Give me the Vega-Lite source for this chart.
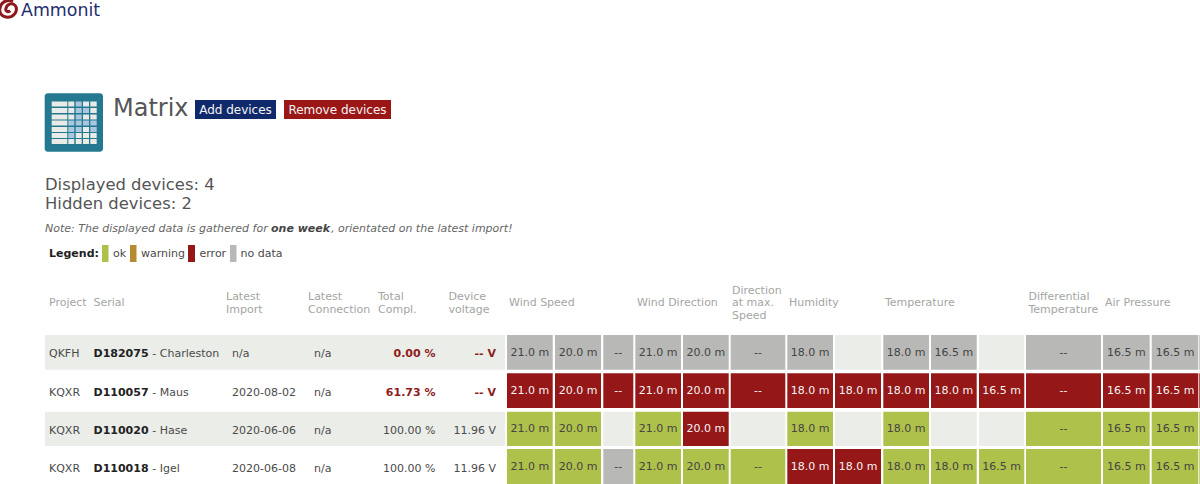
{"$schema":"https://vega.github.io/schema/vega-lite/v6.json","width":1200,"height":484,"padding":0,"autosize":"none","background":"white","view":{"stroke":null},
"config":{"text":{"font":"DejaVu Sans"}},
"datasets":{
"blocks":[
{"col":70,"colEnd":70.9,"row":30,"rowEnd":30.9,"kind":"frame"},
{"col":0,"colEnd":0.9,"row":1,"rowEnd":1.9,"kind":"empty"},
{"col":0,"colEnd":0.9,"row":3,"rowEnd":3.9,"kind":"empty"},
{"col":53,"colEnd":53.9,"row":23,"rowEnd":23.9,"kind":"add"},
{"col":54,"colEnd":54.9,"row":23,"rowEnd":23.9,"kind":"remove"},
{"col":59,"colEnd":59.9,"row":28,"rowEnd":28.9,"kind":"ok"},
{"col":60,"colEnd":60.9,"row":28,"rowEnd":28.9,"kind":"warning"},
{"col":61,"colEnd":61.9,"row":28,"rowEnd":28.9,"kind":"error"},
{"col":62,"colEnd":62.9,"row":28,"rowEnd":28.9,"kind":"nodata"},
{"col":71,"colEnd":71.9,"row":31,"rowEnd":31.9,"kind":"iconLight"},{"col":72,"colEnd":72.9,"row":31,"rowEnd":31.9,"kind":"iconLight"},{"col":73,"colEnd":73.9,"row":31,"rowEnd":31.9,"kind":"iconBlue"},{"col":74,"colEnd":74.9,"row":31,"rowEnd":31.9,"kind":"iconLight"},{"col":75,"colEnd":75.9,"row":31,"rowEnd":31.9,"kind":"iconLight"},
{"col":71,"colEnd":71.9,"row":32,"rowEnd":32.9,"kind":"iconLight"},{"col":72,"colEnd":72.9,"row":32,"rowEnd":32.9,"kind":"iconLight"},{"col":73,"colEnd":73.9,"row":32,"rowEnd":32.9,"kind":"iconBlue"},{"col":74,"colEnd":74.9,"row":32,"rowEnd":32.9,"kind":"iconBlue"},{"col":75,"colEnd":75.9,"row":32,"rowEnd":32.9,"kind":"iconLight"},
{"col":71,"colEnd":71.9,"row":33,"rowEnd":33.9,"kind":"iconLight"},{"col":72,"colEnd":72.9,"row":33,"rowEnd":33.9,"kind":"iconLight"},{"col":73,"colEnd":73.9,"row":33,"rowEnd":33.9,"kind":"iconBlue"},{"col":74,"colEnd":74.9,"row":33,"rowEnd":33.9,"kind":"iconLight"},{"col":75,"colEnd":75.9,"row":33,"rowEnd":33.9,"kind":"iconLight"},
{"col":71,"colEnd":71.9,"row":34,"rowEnd":34.9,"kind":"iconLight"},{"col":72,"colEnd":72.9,"row":34,"rowEnd":34.9,"kind":"iconBlue"},{"col":73,"colEnd":73.9,"row":34,"rowEnd":34.9,"kind":"iconBlue"},{"col":74,"colEnd":74.9,"row":34,"rowEnd":34.9,"kind":"iconBlue"},{"col":75,"colEnd":75.9,"row":34,"rowEnd":34.9,"kind":"iconBlue"},
{"col":71,"colEnd":71.9,"row":35,"rowEnd":35.9,"kind":"iconLight"},{"col":72,"colEnd":72.9,"row":35,"rowEnd":35.9,"kind":"iconBlue"},{"col":73,"colEnd":73.9,"row":35,"rowEnd":35.9,"kind":"iconBlue"},{"col":74,"colEnd":74.9,"row":35,"rowEnd":35.9,"kind":"iconLight"},{"col":75,"colEnd":75.9,"row":35,"rowEnd":35.9,"kind":"iconBlue"},
{"col":71,"colEnd":71.9,"row":36,"rowEnd":36.9,"kind":"iconLight"},{"col":72,"colEnd":72.9,"row":36,"rowEnd":36.9,"kind":"iconBlue"},{"col":73,"colEnd":73.9,"row":36,"rowEnd":36.9,"kind":"iconLight"},{"col":74,"colEnd":74.9,"row":36,"rowEnd":36.9,"kind":"iconLight"},{"col":75,"colEnd":75.9,"row":36,"rowEnd":36.9,"kind":"iconLight"},
{"col":71,"colEnd":71.9,"row":37,"rowEnd":37.9,"kind":"iconLight"},{"col":72,"colEnd":72.9,"row":37,"rowEnd":37.9,"kind":"iconLight"},{"col":73,"colEnd":73.9,"row":37,"rowEnd":37.9,"kind":"iconLight"},{"col":74,"colEnd":74.9,"row":37,"rowEnd":37.9,"kind":"iconLight"},{"col":75,"colEnd":75.9,"row":37,"rowEnd":37.9,"kind":"iconLight"}
],
"cells":[
{"col":1,"colEnd":1.9,"colMid":1.45,"row":1,"rowEnd":1.9,"rowMid":1.46,"height":"21.0 m","status":"nodata"},
{"col":2,"colEnd":2.9,"colMid":2.45,"row":1,"rowEnd":1.9,"rowMid":1.46,"height":"20.0 m","status":"nodata"},
{"col":3,"colEnd":3.9,"colMid":3.45,"row":1,"rowEnd":1.9,"rowMid":1.46,"height":"--","status":"nodata"},
{"col":4,"colEnd":4.9,"colMid":4.45,"row":1,"rowEnd":1.9,"rowMid":1.46,"height":"21.0 m","status":"nodata"},
{"col":5,"colEnd":5.9,"colMid":5.45,"row":1,"rowEnd":1.9,"rowMid":1.46,"height":"20.0 m","status":"nodata"},
{"col":6,"colEnd":6.9,"colMid":6.45,"row":1,"rowEnd":1.9,"rowMid":1.46,"height":"--","status":"nodata"},
{"col":7,"colEnd":7.9,"colMid":7.45,"row":1,"rowEnd":1.9,"rowMid":1.46,"height":"18.0 m","status":"nodata"},
{"col":8,"colEnd":8.9,"colMid":8.45,"row":1,"rowEnd":1.9,"rowMid":1.46,"height":"","status":"empty"},
{"col":9,"colEnd":9.9,"colMid":9.45,"row":1,"rowEnd":1.9,"rowMid":1.46,"height":"18.0 m","status":"nodata"},
{"col":10,"colEnd":10.9,"colMid":10.45,"row":1,"rowEnd":1.9,"rowMid":1.46,"height":"16.5 m","status":"nodata"},
{"col":11,"colEnd":11.9,"colMid":11.45,"row":1,"rowEnd":1.9,"rowMid":1.46,"height":"","status":"empty"},
{"col":12,"colEnd":12.9,"colMid":12.45,"row":1,"rowEnd":1.9,"rowMid":1.46,"height":"--","status":"nodata"},
{"col":13,"colEnd":13.9,"colMid":13.45,"row":1,"rowEnd":1.9,"rowMid":1.46,"height":"16.5 m","status":"nodata"},
{"col":14,"colEnd":14.9,"colMid":14.45,"row":1,"rowEnd":1.9,"rowMid":1.46,"height":"16.5 m","status":"nodata"},
{"col":15,"colEnd":15.9,"colMid":15.45,"row":1,"rowEnd":1.9,"rowMid":1.46,"height":"","status":"nodata"},
{"col":1,"colEnd":1.9,"colMid":1.45,"row":2,"rowEnd":2.9,"rowMid":2.46,"height":"21.0 m","status":"error"},
{"col":2,"colEnd":2.9,"colMid":2.45,"row":2,"rowEnd":2.9,"rowMid":2.46,"height":"20.0 m","status":"error"},
{"col":3,"colEnd":3.9,"colMid":3.45,"row":2,"rowEnd":2.9,"rowMid":2.46,"height":"--","status":"error"},
{"col":4,"colEnd":4.9,"colMid":4.45,"row":2,"rowEnd":2.9,"rowMid":2.46,"height":"21.0 m","status":"error"},
{"col":5,"colEnd":5.9,"colMid":5.45,"row":2,"rowEnd":2.9,"rowMid":2.46,"height":"20.0 m","status":"error"},
{"col":6,"colEnd":6.9,"colMid":6.45,"row":2,"rowEnd":2.9,"rowMid":2.46,"height":"--","status":"error"},
{"col":7,"colEnd":7.9,"colMid":7.45,"row":2,"rowEnd":2.9,"rowMid":2.46,"height":"18.0 m","status":"error"},
{"col":8,"colEnd":8.9,"colMid":8.45,"row":2,"rowEnd":2.9,"rowMid":2.46,"height":"18.0 m","status":"error"},
{"col":9,"colEnd":9.9,"colMid":9.45,"row":2,"rowEnd":2.9,"rowMid":2.46,"height":"18.0 m","status":"error"},
{"col":10,"colEnd":10.9,"colMid":10.45,"row":2,"rowEnd":2.9,"rowMid":2.46,"height":"18.0 m","status":"error"},
{"col":11,"colEnd":11.9,"colMid":11.45,"row":2,"rowEnd":2.9,"rowMid":2.46,"height":"16.5 m","status":"error"},
{"col":12,"colEnd":12.9,"colMid":12.45,"row":2,"rowEnd":2.9,"rowMid":2.46,"height":"--","status":"error"},
{"col":13,"colEnd":13.9,"colMid":13.45,"row":2,"rowEnd":2.9,"rowMid":2.46,"height":"16.5 m","status":"error"},
{"col":14,"colEnd":14.9,"colMid":14.45,"row":2,"rowEnd":2.9,"rowMid":2.46,"height":"16.5 m","status":"error"},
{"col":15,"colEnd":15.9,"colMid":15.45,"row":2,"rowEnd":2.9,"rowMid":2.46,"height":"","status":"error"},
{"col":1,"colEnd":1.9,"colMid":1.45,"row":3,"rowEnd":3.9,"rowMid":3.46,"height":"21.0 m","status":"ok"},
{"col":2,"colEnd":2.9,"colMid":2.45,"row":3,"rowEnd":3.9,"rowMid":3.46,"height":"20.0 m","status":"ok"},
{"col":3,"colEnd":3.9,"colMid":3.45,"row":3,"rowEnd":3.9,"rowMid":3.46,"height":"","status":"empty"},
{"col":4,"colEnd":4.9,"colMid":4.45,"row":3,"rowEnd":3.9,"rowMid":3.46,"height":"21.0 m","status":"ok"},
{"col":5,"colEnd":5.9,"colMid":5.45,"row":3,"rowEnd":3.9,"rowMid":3.46,"height":"20.0 m","status":"error"},
{"col":6,"colEnd":6.9,"colMid":6.45,"row":3,"rowEnd":3.9,"rowMid":3.46,"height":"","status":"empty"},
{"col":7,"colEnd":7.9,"colMid":7.45,"row":3,"rowEnd":3.9,"rowMid":3.46,"height":"18.0 m","status":"ok"},
{"col":8,"colEnd":8.9,"colMid":8.45,"row":3,"rowEnd":3.9,"rowMid":3.46,"height":"","status":"empty"},
{"col":9,"colEnd":9.9,"colMid":9.45,"row":3,"rowEnd":3.9,"rowMid":3.46,"height":"18.0 m","status":"ok"},
{"col":10,"colEnd":10.9,"colMid":10.45,"row":3,"rowEnd":3.9,"rowMid":3.46,"height":"","status":"empty"},
{"col":11,"colEnd":11.9,"colMid":11.45,"row":3,"rowEnd":3.9,"rowMid":3.46,"height":"","status":"empty"},
{"col":12,"colEnd":12.9,"colMid":12.45,"row":3,"rowEnd":3.9,"rowMid":3.46,"height":"--","status":"ok"},
{"col":13,"colEnd":13.9,"colMid":13.45,"row":3,"rowEnd":3.9,"rowMid":3.46,"height":"16.5 m","status":"ok"},
{"col":14,"colEnd":14.9,"colMid":14.45,"row":3,"rowEnd":3.9,"rowMid":3.46,"height":"16.5 m","status":"ok"},
{"col":15,"colEnd":15.9,"colMid":15.45,"row":3,"rowEnd":3.9,"rowMid":3.46,"height":"","status":"ok"},
{"col":1,"colEnd":1.9,"colMid":1.45,"row":4,"rowEnd":4.9,"rowMid":4.45,"height":"21.0 m","status":"ok"},
{"col":2,"colEnd":2.9,"colMid":2.45,"row":4,"rowEnd":4.9,"rowMid":4.45,"height":"20.0 m","status":"ok"},
{"col":3,"colEnd":3.9,"colMid":3.45,"row":4,"rowEnd":4.9,"rowMid":4.45,"height":"--","status":"nodata"},
{"col":4,"colEnd":4.9,"colMid":4.45,"row":4,"rowEnd":4.9,"rowMid":4.45,"height":"21.0 m","status":"ok"},
{"col":5,"colEnd":5.9,"colMid":5.45,"row":4,"rowEnd":4.9,"rowMid":4.45,"height":"20.0 m","status":"ok"},
{"col":6,"colEnd":6.9,"colMid":6.45,"row":4,"rowEnd":4.9,"rowMid":4.45,"height":"--","status":"ok"},
{"col":7,"colEnd":7.9,"colMid":7.45,"row":4,"rowEnd":4.9,"rowMid":4.45,"height":"18.0 m","status":"error"},
{"col":8,"colEnd":8.9,"colMid":8.45,"row":4,"rowEnd":4.9,"rowMid":4.45,"height":"18.0 m","status":"error"},
{"col":9,"colEnd":9.9,"colMid":9.45,"row":4,"rowEnd":4.9,"rowMid":4.45,"height":"18.0 m","status":"ok"},
{"col":10,"colEnd":10.9,"colMid":10.45,"row":4,"rowEnd":4.9,"rowMid":4.45,"height":"18.0 m","status":"ok"},
{"col":11,"colEnd":11.9,"colMid":11.45,"row":4,"rowEnd":4.9,"rowMid":4.45,"height":"16.5 m","status":"ok"},
{"col":12,"colEnd":12.9,"colMid":12.45,"row":4,"rowEnd":4.9,"rowMid":4.45,"height":"--","status":"ok"},
{"col":13,"colEnd":13.9,"colMid":13.45,"row":4,"rowEnd":4.9,"rowMid":4.45,"height":"16.5 m","status":"ok"},
{"col":14,"colEnd":14.9,"colMid":14.45,"row":4,"rowEnd":4.9,"rowMid":4.45,"height":"16.5 m","status":"ok"},
{"col":15,"colEnd":15.9,"colMid":15.45,"row":4,"rowEnd":4.9,"rowMid":4.45,"height":"","status":"ok"}
],
"texts":[
{"t":"QKFH","col":20,"row":11,"style":"plain"},{"t":"KQXR","col":20,"row":12,"style":"plain"},{"t":"KQXR","col":20,"row":13,"style":"plain"},{"t":"KQXR","col":20,"row":14,"style":"plain"},
{"t":"D182075","col":21,"row":11,"style":"bold"},{"t":"D110057","col":21,"row":12,"style":"bold"},{"t":"D110020","col":21,"row":13,"style":"bold"},{"t":"D110018","col":21,"row":14,"style":"bold"},
{"t":"- Charleston","col":22,"row":11,"style":"plain"},{"t":"- Maus","col":22,"row":12,"style":"plain"},{"t":"- Hase","col":22,"row":13,"style":"plain"},{"t":"- Igel","col":22,"row":14,"style":"plain"},
{"t":"n/a","col":23,"row":11,"style":"plain"},{"t":"2020-08-02","col":23,"row":12,"style":"plain"},{"t":"2020-06-06","col":23,"row":13,"style":"plain"},{"t":"2020-06-08","col":23,"row":14,"style":"plain"},
{"t":"n/a","col":24,"row":11,"style":"plain"},{"t":"n/a","col":24,"row":12,"style":"plain"},{"t":"n/a","col":24,"row":13,"style":"plain"},{"t":"n/a","col":24,"row":14,"style":"plain"},
{"t":"0.00 %","col":25,"row":11,"style":"alert"},{"t":"61.73 %","col":25,"row":12,"style":"alert"},{"t":"100.00 %","col":25,"row":13,"style":"right"},{"t":"100.00 %","col":25,"row":14,"style":"right"},
{"t":"-- V","col":26,"row":11,"style":"alert"},{"t":"-- V","col":26,"row":12,"style":"alert"},{"t":"11.96 V","col":26,"row":13,"style":"right"},{"t":"11.96 V","col":26,"row":14,"style":"right"},
{"t":"Project","col":20,"row":0,"style":"head"},{"t":"Serial","col":21,"row":0,"style":"head"},{"t":"Latest\nImport","col":32,"row":-1,"style":"head"},{"t":"Latest\nConnection","col":33,"row":-1,"style":"head"},{"t":"Total\nCompl.","col":34,"row":-1,"style":"head"},{"t":"Device\nvoltage","col":35,"row":-1,"style":"head"},{"t":"Wind Speed","col":36,"row":0,"style":"head"},{"t":"Wind Direction","col":37,"row":0,"style":"head"},{"t":"Direction\nat max.\nSpeed","col":38,"row":-2,"style":"head"},{"t":"Humidity","col":39,"row":0,"style":"head"},{"t":"Temperature","col":40,"row":0,"style":"head"},{"t":"Differential\nTemperature","col":41,"row":-1,"style":"head"},{"t":"Air Pressure","col":42,"row":0,"style":"head"},
{"t":"Ammonit","col":51,"row":20,"style":"logo"},
{"t":"Matrix","col":52,"row":22,"style":"title"},
{"t":"Add devices","col":53.45,"row":23.45,"style":"button"},{"t":"Remove devices","col":54.45,"row":23.45,"style":"button"},
{"t":"Displayed devices: 4","col":55,"row":24,"style":"count"},{"t":"Hidden devices: 2","col":55,"row":25,"style":"count"},
{"t":"Note: The displayed data is gathered for","col":55,"row":26,"style":"note"},{"t":"one week","col":56,"row":26,"style":"noteBold"},{"t":", orientated on the latest import!","col":57,"row":26,"style":"note"},
{"t":"Legend:","col":58,"row":27,"style":"bold"},{"t":"ok","col":63,"row":27,"style":"plain"},{"t":"warning","col":64,"row":27,"style":"plain"},{"t":"error","col":65,"row":27,"style":"plain"},{"t":"no data","col":66,"row":27,"style":"plain"}
]
},
"layer":[
{"data":{"name":"blocks"},"transform":[{"filter":"datum.kind==='frame'"}],"mark":{"type":"rect","cornerRadius":3,"fill":"#24788f"},
"encoding":{
"x":{"field":"col","type":"quantitative","axis":null,"scale":{"nice":false,"zero":false,"domain":[0,0.9,1,1.9,2,2.9,3,3.9,4,4.9,5,5.9,6,6.9,7,7.9,8,8.9,9,9.9,10,10.9,11,11.9,12,12.9,13,13.9,14,14.9,15,15.9,20,21,22,23,24,25,26,32,33,34,35,36,37,38,39,40,41,42,50,51,52,53,53.9,54,54.9,55,56,57,58,59,59.9,60,60.9,61,61.9,62,62.9,63,64,65,66,70,70.9,71,71.9,72,72.9,73,73.9,74,74.9,75,75.9],
"range":[45,505,507,552.7,555,601,603.3,633.3,635.3,681,683,728.7,730.7,785.3,787.3,833,835,881,883.3,929,931,976.7,979,1024.3,1026,1101,1103,1149.7,1151.7,1198.3,1199.3,1210,49,93.5,152.3,232,314,435.5,496,226,308,378,448.5,509,637,732,789,885,1028.5,1105,8.5,21,113,195,276,284,391,45,271,331,49,102,108.5,130,136.5,188,195,230,236.5,113,141,199.5,240.5,44.7,103,51.7,67.3,68.3,74.3,75.7,81.7,83,89,90.3,96.7]}},
"x2":{"field":"colEnd"},
"y":{"field":"row","type":"quantitative","axis":null,"scale":{"nice":false,"zero":false,"domain":[-2,-1,0,1,1.9,2,2.9,3,3.9,4,4.9,11,12,13,14,20,21,22,23,23.9,24,25,26,27,28,28.9,30,30.9,31,31.9,32,32.9,33,33.9,34,34.9,35,35.9,36,36.9,37,37.9],
"range":[290.5,296.8,303,335,369.7,373.3,408,411.7,446,449,484.5,354,393,431,469,11.3,9,108.5,100,119,185,204,229,254,245,262,93.3,151.7,101.5,106.5,108,113,114.5,119.5,120.5,125.5,127,132,133,138,139,144]}},
"y2":{"field":"rowEnd"}
}},
{"data":{"name":"blocks"},"transform":[{"filter":"datum.kind!=='frame'"}],"mark":{"type":"rect"},
"encoding":{
"x":{"field":"col","type":"quantitative","axis":null},
"x2":{"field":"colEnd"},
"y":{"field":"row","type":"quantitative","axis":null},
"y2":{"field":"rowEnd"},
"fill":{"field":"kind","type":"nominal","legend":null,"scale":{"domain":["ok","warning","error","nodata","empty","add","remove","iconLight","iconBlue"],"range":["#aec14b","#b88a2f","#951717","#b8b9b6","#ebede9","#10296b","#9b1616","#e9ebe7","#a9c8e0"]}}
}},
{"data":{"name":"cells"},"mark":{"type":"rect"},
"encoding":{"x":{"field":"col","type":"quantitative","axis":null},"x2":{"field":"colEnd"},"y":{"field":"row","type":"quantitative","axis":null},"y2":{"field":"rowEnd"},"fill":{"field":"status","type":"nominal","legend":null}}},
{"data":{"name":"cells"},"mark":{"type":"text","fontSize":11,"align":"center","baseline":"middle","font":"DejaVu Sans"},
"encoding":{"x":{"field":"colMid","type":"quantitative","axis":null},"y":{"field":"rowMid","type":"quantitative","axis":null},"text":{"field":"height"},
"color":{"condition":{"test":"datum.status==='error'","value":"#f4f4f4"},"value":"#444444"}}},
{"data":{"name":"texts"},"transform":[{"filter":"datum.style==='plain'"}],"mark":{"type":"text","fontSize":11,"align":"left","baseline":"middle","color":"#4a4a4a","font":"DejaVu Sans"},
"encoding":{"x":{"field":"col","type":"quantitative","axis":null},"y":{"field":"row","type":"quantitative","axis":null},"text":{"field":"t"}}},
{"data":{"name":"texts"},"transform":[{"filter":"datum.style==='bold'"}],"mark":{"type":"text","fontSize":11,"fontWeight":"bold","align":"left","baseline":"middle","color":"#222222","font":"DejaVu Sans"},
"encoding":{"x":{"field":"col","type":"quantitative","axis":null},"y":{"field":"row","type":"quantitative","axis":null},"text":{"field":"t"}}},
{"data":{"name":"texts"},"transform":[{"filter":"datum.style==='right'"}],"mark":{"type":"text","fontSize":11,"align":"right","baseline":"middle","color":"#4a4a4a","font":"DejaVu Sans"},
"encoding":{"x":{"field":"col","type":"quantitative","axis":null},"y":{"field":"row","type":"quantitative","axis":null},"text":{"field":"t"}}},
{"data":{"name":"texts"},"transform":[{"filter":"datum.style==='alert'"}],"mark":{"type":"text","fontSize":11,"fontWeight":"bold","align":"right","baseline":"middle","color":"#8f1c1c","font":"DejaVu Sans"},
"encoding":{"x":{"field":"col","type":"quantitative","axis":null},"y":{"field":"row","type":"quantitative","axis":null},"text":{"field":"t"}}},
{"data":{"name":"texts"},"transform":[{"filter":"datum.style==='head'"}],"mark":{"type":"text","fontSize":11,"align":"left","baseline":"middle","color":"#a3a6a3","font":"DejaVu Sans","lineBreak":"\n","lineHeight":12.8},
"encoding":{"x":{"field":"col","type":"quantitative","axis":null},"y":{"field":"row","type":"quantitative","axis":null},"text":{"field":"t"}}},
{"data":{"name":"texts"},"transform":[{"filter":"datum.style==='logo'"}],"mark":{"type":"text","fontSize":17.4,"align":"left","baseline":"middle","color":"#1f2f6e","font":"DejaVu Sans"},
"encoding":{"x":{"field":"col","type":"quantitative","axis":null},"y":{"field":"row","type":"quantitative","axis":null},"text":{"field":"t"}}},
{"data":{"name":"texts"},"transform":[{"filter":"datum.style==='title'"}],"mark":{"type":"text","fontSize":24,"align":"left","baseline":"middle","color":"#555555","font":"DejaVu Sans"},
"encoding":{"x":{"field":"col","type":"quantitative","axis":null},"y":{"field":"row","type":"quantitative","axis":null},"text":{"field":"t"}}},
{"data":{"name":"texts"},"transform":[{"filter":"datum.style==='button'"}],"mark":{"type":"text","fontSize":12,"align":"center","baseline":"middle","color":"#f4f4f4","font":"DejaVu Sans"},
"encoding":{"x":{"field":"col","type":"quantitative","axis":null},"y":{"field":"row","type":"quantitative","axis":null},"text":{"field":"t"}}},
{"data":{"name":"texts"},"transform":[{"filter":"datum.style==='count'"}],"mark":{"type":"text","fontSize":16.4,"align":"left","baseline":"middle","color":"#555555","font":"DejaVu Sans"},
"encoding":{"x":{"field":"col","type":"quantitative","axis":null},"y":{"field":"row","type":"quantitative","axis":null},"text":{"field":"t"}}},
{"data":{"name":"texts"},"transform":[{"filter":"datum.style==='note'"}],"mark":{"type":"text","fontSize":11,"fontStyle":"italic","align":"left","baseline":"middle","color":"#666666","font":"DejaVu Sans"},
"encoding":{"x":{"field":"col","type":"quantitative","axis":null},"y":{"field":"row","type":"quantitative","axis":null},"text":{"field":"t"}}},
{"data":{"name":"texts"},"transform":[{"filter":"datum.style==='noteBold'"}],"mark":{"type":"text","fontSize":11,"fontStyle":"italic","fontWeight":"bold","align":"left","baseline":"middle","color":"#444444","font":"DejaVu Sans"},
"encoding":{"x":{"field":"col","type":"quantitative","axis":null},"y":{"field":"row","type":"quantitative","axis":null},"text":{"field":"t"}}},
{"data":{"values":[{"logo":"Ammonit","col":50,"row":21}]},"mark":{"type":"point","shape":"M0.5,-0.85 C-0.4,-1.15 -1,-0.5 -0.95,0.15 C-0.9,0.8 -0.2,1.05 0.35,0.8 C0.85,0.55 1,-0.05 0.7,-0.4 C0.35,-0.75 -0.2,-0.5 -0.3,0 C-0.3,0.3 0,0.35 0.2,0.2","filled":false,"size":340,"strokeWidth":3,"color":"#8e1a1e","opacity":1},
"encoding":{"x":{"field":"col","type":"quantitative","axis":null},"y":{"field":"row","type":"quantitative","axis":null}}}
]}
